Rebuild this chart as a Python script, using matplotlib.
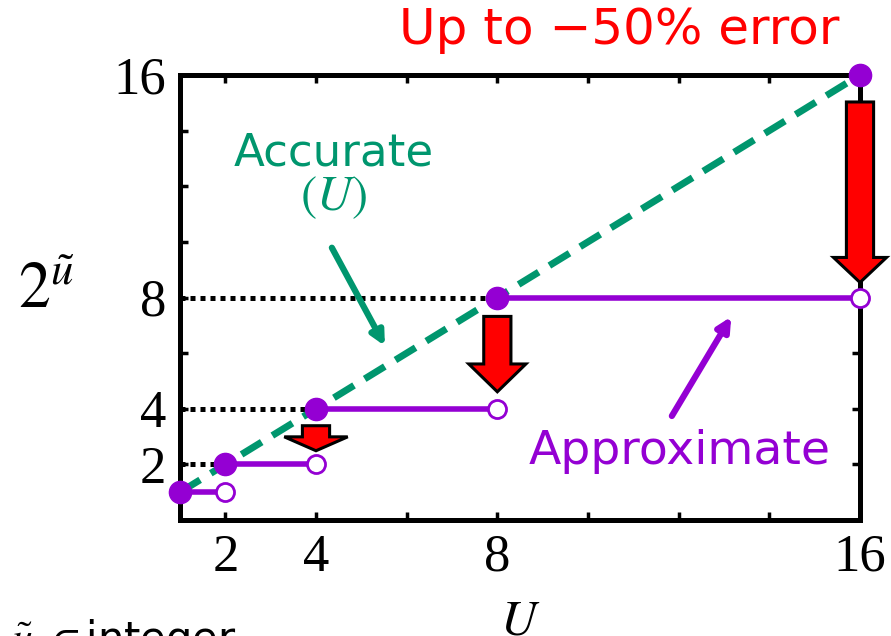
import matplotlib
matplotlib.use('Agg')
import matplotlib.pyplot as plt
from matplotlib.patches import FancyArrow

plt.rcParams['mathtext.fontset'] = 'stix'

# data
u_steps = [1, 2, 4, 8, 16]              # step edges
approx_vals = [1, 2, 4, 8]              # 2^floor(u) on each step
accurate_x = [1, 16]
accurate_y = [1, 16]
dotted_levels = [2, 4, 8]
xtick_labels = [2, 4, 8, 16]
ytick_labels = [2, 4, 8, 16]
# red arrows: x, top, tip
err_arrows = [(4, 3.39, 2.49), (8, 7.32, 4.61), (16, 15.03, 8.54)]

purple = '#9400D3'
green = '#00966E'

fig = plt.figure(figsize=(8.91, 6.36), dpi=100)
ax = fig.add_axes([180 / 891, 1 - 520 / 636, 680 / 891, 445 / 636])
ax.set_xlim(1, 16)
ax.set_ylim(0, 16)

# accurate line
ax.plot(accurate_x, accurate_y, color=green, lw=5, dashes=(3.4, 1.8), zorder=2,
        solid_capstyle='butt', dash_capstyle='butt')

# dotted guide lines
for lv in dotted_levels:
    ax.plot([1, lv], [lv, lv], color='black', lw=3.6, linestyle=(0, (1, 1)), zorder=1)

# approximate steps
for i, v in enumerate(approx_vals):
    x0, x1 = u_steps[i], u_steps[i + 1]
    ax.plot([x0, x1], [v, v], color=purple, lw=4, zorder=3, solid_capstyle='butt')
    ax.plot(x1, v, 'o', ms=13, mfc='white', mec=purple, mew=2, zorder=6, clip_on=False)
    ax.plot(x0, v, 'o', ms=16, color=purple, zorder=7, clip_on=False)
ax.plot(16, 16, 'o', ms=16, color=purple, zorder=7, clip_on=False)

# red error arrows
head_w = {4: 1.4, 8: 1.26, 16: 1.17}
head_l = {4: 0.5, 8: 1.0, 16: 0.9}
for x, top, tip in err_arrows:
    arr = FancyArrow(x, top, 0, tip - top, width=0.6, head_width=head_w[x],
                     head_length=head_l[x], length_includes_head=True,
                     facecolor='red', edgecolor='black', lw=2.2, zorder=8, clip_on=False)
    ax.add_patch(arr)

# annotations
ax.text(4.38, 13.2, 'Accurate', color=green, fontsize=32.5, ha='center', va='center',
        family='DejaVu Sans')
ax.text(4.38, 11.6, r'$(U)$', color=green, fontsize=35, ha='center', va='center')
ax.annotate('', xy=(5.52, 6.26), xytext=(4.35, 9.79),
            arrowprops=dict(arrowstyle='-|>,head_width=0.4,head_length=0.8',
                            color=green, lw=4.5, shrinkA=0, shrinkB=0))
ax.text(12.03, 2.48, 'Approximate', color=purple, fontsize=34, ha='center', va='center',
        family='DejaVu Sans')
ax.annotate('', xy=(13.16, 7.31), xytext=(11.85, 3.74),
            arrowprops=dict(arrowstyle='-|>,head_width=0.4,head_length=0.8',
                            color=purple, lw=4.5, shrinkA=0, shrinkB=0))
ax.text(10.7, 17.6, 'Up to \u221250% error', color='red', fontsize=36, ha='center',
        va='center', family='DejaVu Sans', clip_on=False)

# axes styling
for sp in ax.spines.values():
    sp.set_linewidth(3.6)
ax.set_xticks(range(2, 17, 2))
ax.set_yticks(range(2, 17, 2))
ax.set_xticklabels([str(t) if t in xtick_labels else '' for t in range(2, 17, 2)])
ax.set_yticklabels([str(t) if t in ytick_labels else '' for t in range(2, 17, 2)])
ax.tick_params(direction='in', length=6, width=2.5, top=True, right=True,
               labelsize=38, pad=10)
for lab in ax.get_xticklabels() + ax.get_yticklabels():
    lab.set_family('Liberation Serif')

ax.text(-0.197, 0.517, r'$\mathrm{2}^{\tilde{u}}$', transform=ax.transAxes, fontsize=46,
        ha='center', va='center')
ax.text(0.5, -0.225, r'$U$', transform=ax.transAxes, fontsize=36,
        ha='center', va='center', clip_on=False)
fig.text(0.012, -0.025, r'$\tilde{u}$ $\in$integer', fontsize=30, ha='left',
         va='baseline', family='DejaVu Sans')

fig.savefig('out.png', dpi=100)
